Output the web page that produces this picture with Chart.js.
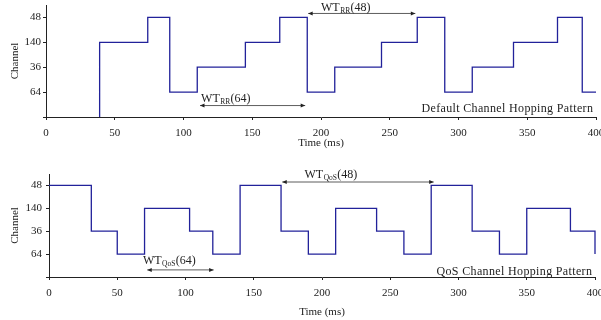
<!DOCTYPE html>
<html lang="en">
<head>
<meta charset="UTF-8" />
<title>Channel hopping patterns</title>
<script src="https://cdn.jsdelivr.net/npm/chart.js"></script>
<style>
    body { margin: 0; background: #fff; }
    .panel { position: absolute; left: 0; width: 601px; height: 160px; }
</style>
</head>
<body>
<div class="panel" style="top:0"><canvas id="defaultChart" width="601" height="160"></canvas></div>
<div class="panel" style="top:160px"><canvas id="qosChart" width="601" height="160"></canvas></div>

<script>
// y tick labels, bottom (level 0) to top
const channelTicks = ['', '64', '36', '140', '48'];
const timeTicks = [0, 50, 100, 150, 200, 250, 300, 350, 400];

// default (round robin) hopping: channel starting at each time (ms)
const defaultTimes = [39, 39, 74, 90, 110, 145, 170, 190, 210, 244, 270, 290, 310, 340, 372, 390, 400];
const defaultChannels = ['', '140', '48', '64', '36', '140', '48', '64', '36', '140', '48', '64', '36', '140', '48', '64', '64'];

// QoS hopping
const qosTimes = [0, 31, 50, 70, 103, 120, 140, 170, 190, 210, 240, 260, 280, 310, 330, 350, 382, 400];
const qosChannels = ['48', '36', '64', '140', '36', '64', '48', '36', '64', '140', '36', '64', '48', '36', '64', '140', '36', '64'];

// waiting-time arrows: start, end (ms), level, label start (ms), label level
const defaultWaits = [
    { sub: 'RR', ch: '64', from: 112, to: 188.5, level: 0.46, textAt: 112.8, textLevel: 0.62 },
    { sub: 'RR', ch: '48', from: 190.7, to: 268.6, level: 4.16, textAt: 200, textLevel: 4.24 }
];
const qosWaits = [
    { sub: 'QoS', ch: '64', from: 72, to: 120.6, level: 0.31, textAt: 68.8, textLevel: 0.57 },
    { sub: 'QoS', ch: '48', from: 170.9, to: 281.8, level: 4.15, textAt: 187.2, textLevel: 4.34 }
];

const FONT = "'Liberation Serif', 'Times New Roman', serif";
const LINE = '#22229a';
const AXIS = '#222';

function arrowHead(ctx, x, y, dir) {
    ctx.beginPath();
    ctx.moveTo(x, y);
    ctx.lineTo(x - dir * 4.5, y - 2);
    ctx.lineTo(x - dir * 4.5, y + 2);
    ctx.closePath();
    ctx.fill();
}

const notesPlugin = {
    id: 'notes',
    afterDatasetsDraw(chart, args, opts) {
        const { ctx, scales: { x, y } } = chart;
        ctx.save();
        ctx.strokeStyle = '#333';
        ctx.fillStyle = '#222';
        ctx.lineWidth = 0.8;
        opts.waits.forEach(w => {
            const x1 = x.getPixelForValue(w.from);
            const x2 = x.getPixelForValue(w.to);
            const yy = y.getPixelForValue(w.level);
            ctx.beginPath();
            ctx.moveTo(x1, yy);
            ctx.lineTo(x2, yy);
            ctx.stroke();
            arrowHead(ctx, x1, yy, -1);
            arrowHead(ctx, x2, yy, 1);

            let tx = x.getPixelForValue(w.textAt);
            const ty = y.getPixelForValue(w.textLevel);
            ctx.textBaseline = 'alphabetic';
            ctx.textAlign = 'left';
            ctx.font = '12px ' + FONT;
            ctx.fillText('WT', tx, ty);
            tx += ctx.measureText('WT').width;
            ctx.font = '7.5px ' + FONT;
            ctx.fillText(w.sub, tx + 0.5, ty + 2);
            tx += ctx.measureText(w.sub).width + 0.8;
            ctx.font = '12px ' + FONT;
            ctx.fillText('(' + w.ch + ')', tx, ty);
        });
        ctx.font = '12px ' + FONT;
        ctx.letterSpacing = '0.35px';
        ctx.textAlign = 'right';
        ctx.fillText(opts.caption, x.getPixelForValue(opts.captionAt), y.getPixelForValue(opts.captionLevel));
        ctx.restore();
    }
};

function makeChart(id, times, channels, waits, caption, captionLevel, g) {
    const points = times.map((t, i) => ({ x: t, y: channelTicks.indexOf(channels[i]) }));
    return new Chart(document.getElementById(id), {
        type: 'line',
        data: {
            datasets: [{
                data: points,
                stepped: true,
                borderColor: LINE,
                borderWidth: 1.3,
                pointRadius: 0,
                fill: false,
                clip: 4
            }]
        },
        options: {
            responsive: false,
            animation: false,
            layout: { padding: { left: 0, right: g.right, top: g.top, bottom: 0 } },
            plugins: {
                legend: { display: false },
                tooltip: { enabled: false },
                notes: { waits: waits, caption: caption, captionAt: 398, captionLevel: captionLevel }
            },
            scales: {
                x: {
                    type: 'linear',
                    min: 0,
                    max: 400,
                    afterBuildTicks: s => { s.ticks = timeTicks.map(v => ({ value: v })); },
                    afterFit: s => {
                        s.height = g.xHeight;
                        s.paddingLeft = 0; s.paddingRight = 0;
                    },
                    border: { display: true, color: AXIS, width: 1 },
                    grid: { display: true, drawOnChartArea: false, drawTicks: true, tickLength: 3, color: AXIS },
                    ticks: {
                        padding: 7,
                        maxRotation: 0,
                        autoSkip: false,
                        color: '#222',
                        font: { family: FONT, size: 11 }
                    },
                    title: {
                        display: true,
                        text: 'Time (ms)',
                        color: '#222',
                        font: { family: FONT, size: 11 },
                        padding: { top: 0, bottom: g.titleBottom }
                    }
                },
                y: {
                    type: 'linear',
                    min: 0,
                    max: 4.5,
                    afterBuildTicks: s => { s.ticks = channelTicks.map((c, i) => ({ value: i })); },
                    afterFit: s => {
                        s.width = g.left;
                        s.paddingTop = 0; s.paddingBottom = 0;
                    },
                    border: { display: true, color: AXIS, width: 1 },
                    grid: { display: true, drawOnChartArea: false, drawTicks: true, tickLength: 3, color: AXIS },
                    ticks: {
                        padding: g.yPad,
                        color: '#222',
                        font: { family: FONT, size: 11 },
                        callback: v => channelTicks[v]
                    },
                    title: {
                        display: true,
                        text: 'Channel',
                        color: '#222',
                        font: { family: FONT, size: 11 },
                        padding: { top: 9, bottom: 0 }
                    }
                }
            }
        },
        plugins: [notesPlugin]
    });
}

makeChart('defaultChart', defaultTimes, defaultChannels, defaultWaits,
    'Default Channel Hopping Pattern', 0.21,
    { left: 46, right: 5, top: 5, xHeight: 43, titleBottom: 10, yPad: 2 });

makeChart('qosChart', qosTimes, qosChannels, qosWaits,
    'QoS Channel Hopping Pattern', 0.1,
    { left: 49, right: 6, top: 14, xHeight: 43, titleBottom: 1, yPad: 4 });
</script>
</body>
</html>
